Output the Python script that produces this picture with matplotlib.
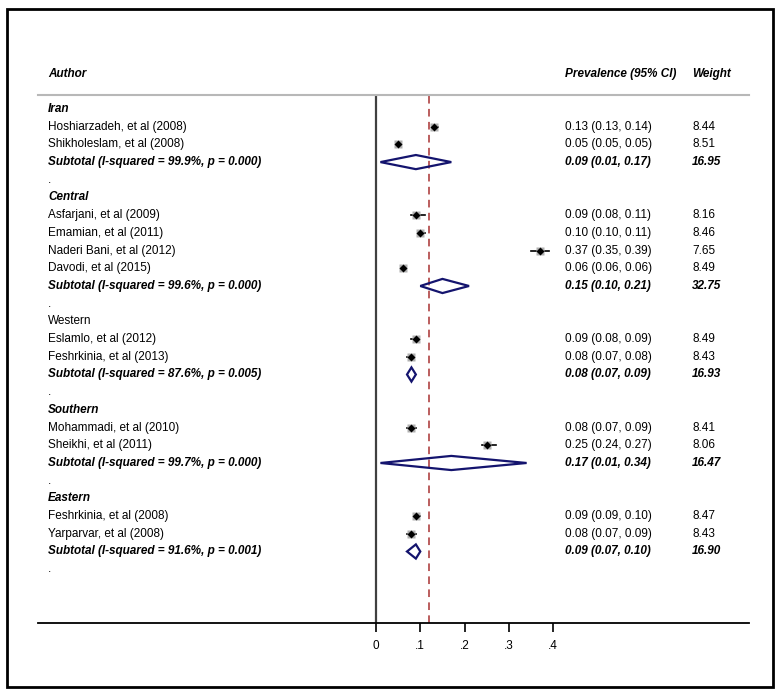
import numpy as np
import matplotlib.pyplot as plt
from matplotlib.patches import Polygon, Rectangle
from matplotlib.transforms import blended_transform_factory

plt.rcParams['font.family'] = ['Liberation Sans', 'DejaVu Sans']

# Region groups
groups = ['Iran', 'Central', 'Western', 'Southern', 'Eastern']
group_bold = [True, True, False, True, True]

# Individual studies
study_group = [0, 0, 1, 1, 1, 1, 2, 2, 3, 3, 4, 4]
study_names = ['Hoshiarzadeh, et al (2008)', 'Shikholeslam, et al (2008)',
               'Asfarjani, et al (2009)', 'Emamian, et al (2011)',
               'Naderi Bani, et al (2012)', 'Davodi, et al (2015)',
               'Eslamlo, et al (2012)', 'Feshrkinia, et al (2013)',
               'Mohammadi, et al (2010)', 'Sheikhi, et al (2011)',
               'Feshrkinia, et al (2008)', 'Yarparvar, et al (2008)']
study_est = [0.13, 0.05, 0.09, 0.10, 0.37, 0.06, 0.09, 0.08, 0.08, 0.25, 0.09, 0.08]
study_lo = [0.13, 0.05, 0.08, 0.10, 0.35, 0.06, 0.08, 0.07, 0.07, 0.24, 0.09, 0.07]
study_hi = [0.14, 0.05, 0.11, 0.11, 0.39, 0.06, 0.09, 0.08, 0.09, 0.27, 0.10, 0.09]
study_wt = [8.44, 8.51, 8.16, 8.46, 7.65, 8.49, 8.49, 8.43, 8.41, 8.06, 8.47, 8.43]

# Subgroup pooled estimates
sub_i2 = [99.9, 99.6, 87.6, 99.7, 91.6]
sub_p = [0.000, 0.000, 0.005, 0.000, 0.001]
sub_est = [0.09, 0.15, 0.08, 0.17, 0.09]
sub_lo = [0.01, 0.10, 0.07, 0.01, 0.07]
sub_hi = [0.17, 0.21, 0.09, 0.34, 0.10]
sub_wt = [16.95, 32.75, 16.93, 16.47, 16.90]

overall_est = 0.12
xticks = [0, 0.1, 0.2, 0.3, 0.4]
xtick_labels = ['0', '.1', '.2', '.3', '.4']

W, H = 780, 694
fig = plt.figure(figsize=(W / 100, H / 100), dpi=100)
ax = fig.add_axes([38 / W, 1 - 623 / H, 711 / W, 528 / H])
ax.set_xlim(-0.763, 0.842)
ax.set_ylim(29.04, -0.79)

navy = '#14146e'
fs = 8.5
tr = blended_transform_factory(ax.transAxes, ax.transData)
x_author, x_prev, x_wt = 0.014, 0.741, 0.920

# header
ax.text(x_author, -2.0, 'Author', transform=tr, fontsize=fs, weight='bold', style='italic', va='center')
ax.text(x_prev, -2.0, 'Prevalence (95% CI)', transform=tr, fontsize=fs, weight='bold', style='italic', va='center')
ax.text(x_wt, -2.0, 'Weight', transform=tr, fontsize=fs, weight='bold', style='italic', va='center')

row = 0
for g, gname in enumerate(groups):
    bold = group_bold[g]
    ax.text(x_author, row, gname, transform=tr, fontsize=fs, va='center',
            weight='bold' if bold else 'normal', style='italic' if bold else 'normal')
    row += 1
    for i in [k for k, sg in enumerate(study_group) if sg == g]:
        # weight box, CI line, point estimate
        ax.plot([study_lo[i], study_hi[i]], [row, row], color='black', lw=1.2, zorder=2)
        ax.plot(study_est[i], row, marker='s', ms=6.4 * np.sqrt(study_wt[i] / 8.5),
                color='#b0b0b0', mec='none', zorder=3)
        ax.plot(study_est[i], row, marker='D', ms=3.8, color='black', mec='none', zorder=4)
        ax.text(x_author, row, study_names[i], transform=tr, fontsize=fs, va='center')
        ax.text(x_prev, row, f'{study_est[i]:.2f} ({study_lo[i]:.2f}, {study_hi[i]:.2f})',
                transform=tr, fontsize=fs, va='center')
        ax.text(x_wt, row, f'{study_wt[i]:.2f}', transform=tr, fontsize=fs, va='center')
        row += 1
    # subtotal diamond
    h = 0.4
    ax.add_patch(Polygon([[sub_lo[g], row], [sub_est[g], row - h], [sub_hi[g], row], [sub_est[g], row + h]],
                         closed=True, fill=False, edgecolor=navy, lw=1.6, zorder=3))
    ax.text(x_author, row, f'Subtotal (I-squared = {sub_i2[g]:.1f}%, p = {sub_p[g]:.3f})',
            transform=tr, fontsize=fs, va='center', weight='bold', style='italic')
    ax.text(x_prev, row, f'{sub_est[g]:.2f} ({sub_lo[g]:.2f}, {sub_hi[g]:.2f})',
            transform=tr, fontsize=fs, va='center', weight='bold', style='italic')
    ax.text(x_wt, row, f'{sub_wt[g]:.2f}', transform=tr, fontsize=fs, va='center',
            weight='bold', style='italic')
    row += 1
    ax.text(x_author, row, '.', transform=tr, fontsize=fs, va='center')
    row += 1

ax.axvline(0, color='#404040', lw=1.6, zorder=1)
ax.axvline(overall_est, color='#a83232', lw=1.1, dashes=(5, 3.5), zorder=1)

for s in ['left', 'right']:
    ax.spines[s].set_visible(False)
ax.spines['top'].set_color('#b8b8b8')
ax.spines['top'].set_linewidth(1.5)
ax.spines['bottom'].set_color('black')
ax.spines['bottom'].set_linewidth(1.3)
ax.set_yticks([])
ax.set_xticks(xticks)
ax.set_xticklabels(xtick_labels, fontsize=fs)
ax.tick_params(axis='x', direction='out', length=6.5, width=1.2, pad=6, colors='black')

fig.add_artist(Rectangle((7 / W, 1 - 687 / H), 766 / W, 678 / H, transform=fig.transFigure,
                         fill=False, edgecolor='black', lw=2))

fig.savefig('out.png', dpi=100, facecolor='white')
